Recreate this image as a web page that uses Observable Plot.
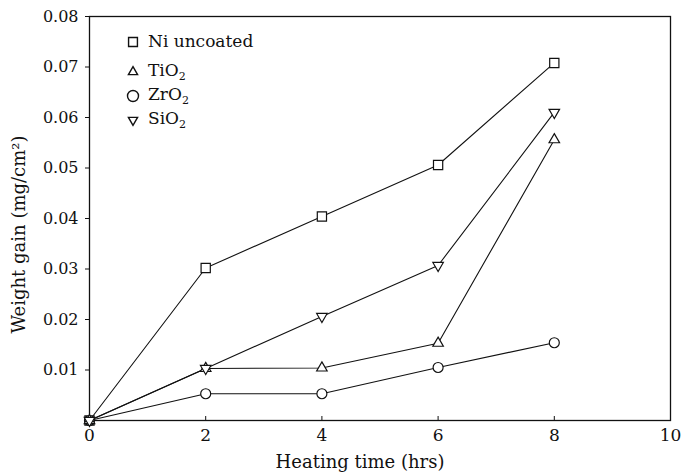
<!DOCTYPE html>
<html>
<head>
<meta charset="utf-8">
<script src="https://cdn.jsdelivr.net/npm/d3@7"></script>
<script src="https://cdn.jsdelivr.net/npm/@observablehq/plot@0.6"></script>
<style>
  html, body { margin: 0; padding: 0; background: #fff; }
  #wrap { position: relative; width: 697px; height: 476px; font-family: "DejaVu Serif", serif; }
  #legend { position: absolute; left: 127px; top: 33px; font-size: 17px; color: #111; line-height: 1; }
  #legend .row { position: absolute; left: 0; white-space: nowrap; display: flex; align-items: center; }
  #legend svg { margin-right: 9px; overflow: visible; }
  #legend sub { font-size: 11px; vertical-align: -4px; }
</style>
</head>
<body>
<div id="wrap"><div id="legend"></div></div>
<script>
const hours = [0, 2, 4, 6, 8];
const niUncoated = [0, 0.0302, 0.0404, 0.0506, 0.0708];
const tiO2 = [0, 0.0103, 0.0104, 0.0153, 0.0556];
const zrO2 = [0, 0.0053, 0.0053, 0.0105, 0.0154];
const siO2 = [0, 0.0103, 0.0206, 0.0307, 0.0610];
const seriesNames = ["Ni uncoated", "TiO2", "ZrO2", "SiO2"];
const seriesLabels = [["Ni uncoated", ""], ["TiO", "2"], ["ZrO", "2"], ["SiO", "2"]];
const seriesSymbols = ["square", "triangle", "circle", "triangle"];
const seriesRotate = [0, 0, 0, 180];
const seriesRadius = [5.2, 3.9, 5, 3.9];
const xTicks = [0, 2, 4, 6, 8, 10];
const yTicks = [0.01, 0.02, 0.03, 0.04, 0.05, 0.06, 0.07, 0.08];

const seriesValues = [niUncoated, tiO2, zrO2, siO2];
const rows = [];
seriesNames.forEach((name, i) => {
  hours.forEach((h, j) => rows.push({series: name, x: h, y: seriesValues[i][j], sym: seriesSymbols[i], rot: seriesRotate[i], rr: seriesRadius[i]}));
});

const chart = Plot.plot({
  width: 697,
  height: 476,
  marginLeft: 89,
  marginRight: 27,
  marginTop: 16,
  marginBottom: 56,
  style: {fontFamily: "DejaVu Serif, serif", fontSize: "16px", color: "#111", background: "#fff"},
  x: {domain: [0, 10]},
  y: {domain: [0, 0.08]},
  r: {type: "identity"},
  symbol: {domain: ["square", "triangle", "circle"], range: ["square", "triangle", "circle"]},
  marks: [
    Plot.frame({stroke: "#111", strokeWidth: 1.3}),
    Plot.axisX({ticks: xTicks, tickSize: -4, tickPadding: 12, fontSize: 17, label: null, stroke: "#111"}),
    Plot.axisY({ticks: yTicks, tickSize: 4, tickPadding: 7, tickFormat: d3.format(".2f"), fontSize: 16, label: null, stroke: "#111"}),
    Plot.text(["Heating time (hrs)"], {frameAnchor: "bottom", dy: 47, dx: -20, fontSize: 18, fill: "#111"}),
    Plot.text(["Weight gain (mg/cm²)"], {frameAnchor: "left", textAnchor: "middle", rotate: -90, dx: -70, dy: 16, fontSize: 18, fill: "#111"}),
    Plot.line(rows, {x: "x", y: "y", z: "series", stroke: "#111", strokeWidth: 1.1}),
    Plot.dot(rows, {x: "x", y: "y", symbol: "sym", rotate: "rot", r: "rr", fill: "#fff", stroke: "#111", strokeWidth: 1.2})
  ]
});
document.getElementById("wrap").prepend(chart);

// Legend overlay with subscripts
const legend = document.getElementById("legend");
const rowTops = [0, 29, 53, 77];
const legendSizes = [100, 60, 95, 60];
seriesNames.forEach((name, i) => {
  const row = document.createElement("div");
  row.className = "row";
  row.style.top = rowTops[i] + "px";
  const type = seriesSymbols[i] === "square" ? d3.symbolSquare2 : seriesSymbols[i] === "circle" ? d3.symbolCircle : d3.symbolTriangle2;
  const path = d3.symbol(type, legendSizes[i])();
  row.innerHTML = `<svg width="12" height="12" viewBox="-6 -6 12 12"><path d="${path}" fill="none" stroke="#111" stroke-width="1.4" transform="rotate(${seriesRotate[i]})"/></svg>` +
    `<span>${seriesLabels[i][0]}${seriesLabels[i][1] ? `<sub>${seriesLabels[i][1]}</sub>` : ""}</span>`;
  legend.appendChild(row);
});
</script>
</body>
</html>
